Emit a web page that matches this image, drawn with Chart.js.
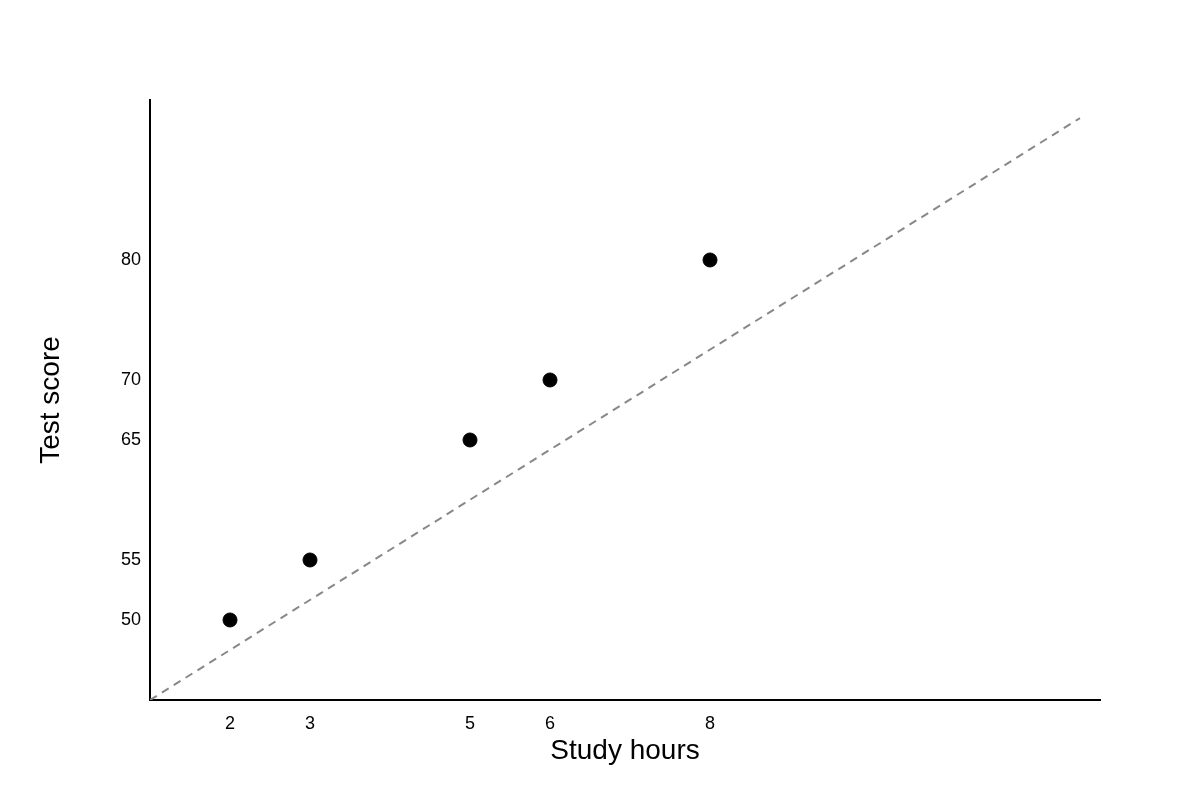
<!DOCTYPE html>
<html><head><meta charset="utf-8">
<script src="https://cdn.jsdelivr.net/npm/chart.js@4"></script>
<style>html,body{margin:0;padding:0;background:#fff}#w{width:1200px;height:800px}</style>
</head><body><div id="w"><canvas id="c"></canvas></div>
<script>
const hours = [2, 3, 5, 6, 8];
const scores = [50, 55, 65, 70, 80];
const xTicks = [2, 3, 5, 6, 8];
const yTicks = [50, 55, 65, 70, 80];
const trendX = [1, 12.625];
const trendY = [43.33, 91.83];

new Chart(document.getElementById('c'), {
  type: 'scatter',
  data: { datasets: [
    { data: hours.map((h,i)=>({x:h,y:scores[i]})), backgroundColor:'#000', borderColor:'#000', pointRadius:7, pointHoverRadius:7 },
    { type:'line', data: trendX.map((x,i)=>({x:x,y:trendY[i]})), borderColor:'#888', borderWidth:2, borderDash:[8,6], pointRadius:0, fill:false }
  ]},
  options: {
    responsive:true, maintainAspectRatio:false, animation:false,
    layout:{padding:{top:100,right:100,left:0,bottom:0}},
    plugins:{legend:{display:false},tooltip:{enabled:false}},
    scales:{
      x:{type:'linear',min:1,max:12.875,
        afterFit(s){s.height=100;},
        afterBuildTicks(s){s.ticks=xTicks.map(v=>({value:v}));},
        grid:{display:false},border:{display:true,color:'#000',width:2},
        ticks:{color:'#000',font:{family:'Liberation Sans',size:18},padding:5,maxRotation:0},
        title:{display:true,text:'Study hours',color:'#000',font:{family:'Liberation Sans',size:28},padding:{top:0,bottom:32}}
      },
      y:{type:'linear',min:43.333,max:93.333,
        afterFit(s){s.width=150;},
        afterBuildTicks(s){s.ticks=yTicks.map(v=>({value:v}));},
        grid:{display:false},border:{display:true,color:'#000',width:2},
        ticks:{color:'#000',font:{family:'Liberation Sans',size:18},padding:1},
        title:{display:true,text:'Test score',color:'#000',font:{family:'Liberation Sans',size:28},padding:{top:34,bottom:0}}
      }
    }
  }
});
</script></body></html>
